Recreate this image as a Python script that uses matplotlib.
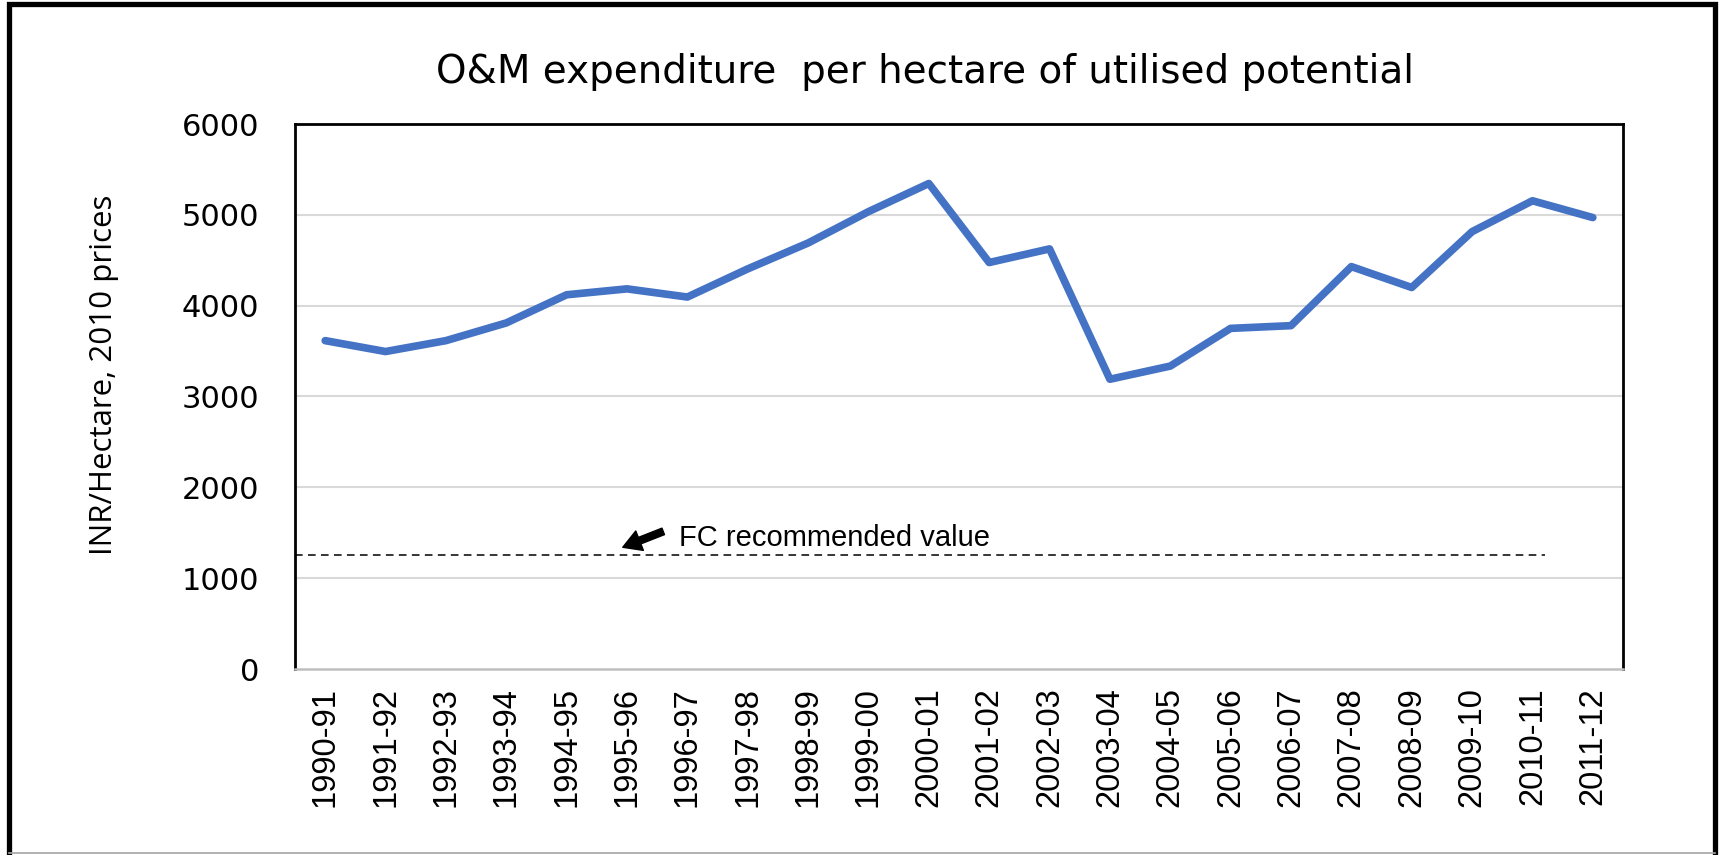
import matplotlib
matplotlib.use("Agg")
import matplotlib.pyplot as plt
from matplotlib.lines import Line2D

years = ["1990-91", "1991-92", "1992-93", "1993-94", "1994-95", "1995-96",
         "1996-97", "1997-98", "1998-99", "1999-00", "2000-01", "2001-02",
         "2002-03", "2003-04", "2004-05", "2005-06", "2006-07", "2007-08",
         "2008-09", "2009-10", "2010-11", "2011-12"]
expenditure = [3615, 3495, 3615, 3810, 4120, 4185, 4095, 4405, 4690, 5035, 5345,
               4475, 4625, 3190, 3335, 3750, 3780, 4430, 4200, 4815, 5155, 4970]
fc_value = 1260
y_ticks = [0, 1000, 2000, 3000, 4000, 5000, 6000]

title = "O&M expenditure  per hectare of utilised potential"
ylabel = "INR/Hectare, 2010 prices"
fc_label = "FC recommended value"

W, H = 1721, 855
fig = plt.figure(figsize=(W / 100, H / 100), dpi=100)
ax = fig.add_axes([295 / W, 1 - 669 / H, (1623 - 295) / W, (669 - 124) / H])

x = list(range(len(years)))
ax.plot(x, expenditure, color="#4472C4", lw=5.5, solid_capstyle="round", zorder=3)

ax.set_xlim(-0.5, len(years) - 0.5)
ax.set_ylim(0, 6000)
ax.set_yticks(y_ticks)
ax.set_yticklabels([str(v) for v in y_ticks], fontsize=22, family=["DejaVu Sans"])
ax.set_xticks(x)
ax.set_xticklabels(years, rotation=90, fontsize=23.5,
                   family=["Liberation Sans", "DejaVu Sans"])
ax.tick_params(axis="x", length=0, pad=13)
ax.tick_params(axis="y", length=0, pad=26)

for v in y_ticks[1:-1]:
    ax.axhline(v, color="#D9D9D9", lw=1.5, zorder=1)

for s in ["left", "top", "right"]:
    ax.spines[s].set_color("black")
    ax.spines[s].set_linewidth(2)
ax.spines["bottom"].set_color("#BFBFBF")
ax.spines["bottom"].set_linewidth(1.8)

# FC recommended line
ax.plot([-0.5, 20.2], [fc_value, fc_value], color="black", lw=1.1,
        dashes=(5, 3.5), zorder=2)
ax.annotate("", xy=(4.93, 1340), xytext=(5.6, 1515),
            arrowprops=dict(facecolor="black", edgecolor="black", width=5,
                            headwidth=15, headlength=13, shrink=0))
ax.text(5.86, 1359, fc_label, fontsize=21, family=["Liberation Sans", "DejaVu Sans"],
        va="baseline", ha="left")

fig.text(104 / W, 1 - 375 / H, ylabel, fontsize=22.5, rotation=90,
         family=["Open Sans", "DejaVu Sans"], ha="center", va="center")

fig.text(925 / W, 1 - 83 / H, title, fontsize=28, family=["DejaVu Sans"],
         ha="center", va="baseline")

# outer frame
fig.add_artist(Line2D([9 / W, 9 / W, 1715 / W, 1715 / W],
                      [1 - 853 / H, 1 - 4.5 / H, 1 - 4.5 / H, 1 - 853 / H],
                      transform=fig.transFigure, color="black", lw=3.8,
                      solid_joinstyle="miter"))
fig.add_artist(Line2D([9 / W, 1715 / W], [1 - 853 / H, 1 - 853 / H],
                      transform=fig.transFigure, color="#A6A6A6", lw=1.2))

fig.savefig("out.png", dpi=100)
